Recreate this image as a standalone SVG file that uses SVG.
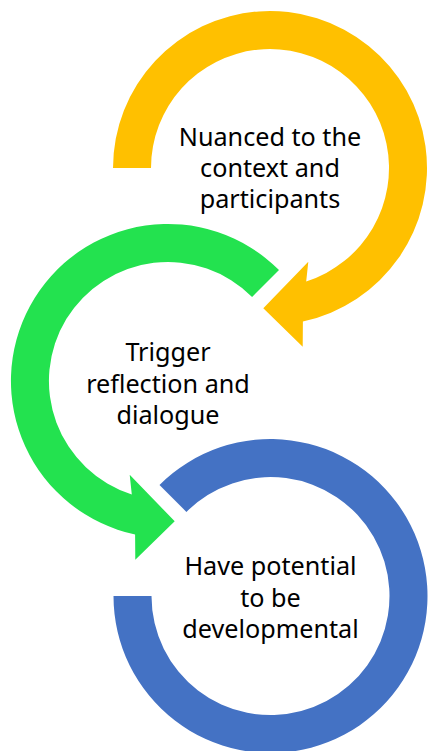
<svg xmlns="http://www.w3.org/2000/svg" width="429" height="751" viewBox="0 0 429 751">
<style>
.lbl{font-family:"Noto Sans","Liberation Sans",Arial,sans-serif;font-size:25.2px;fill:#000;text-anchor:middle}
.y{fill:#FFC000}
.g{fill:#23E24F}
.b{fill:#4472C4}
</style>
<rect width="429" height="751" fill="#fff"/>
<g id="connectors"></g>
<g id="node-yellow">
<path class="y" d="M113,168 A157,157 0 1 1 302.9,321.5 L302.7,346.7 L263.3,308.3 L308.3,261.7 L306.2,281.4 A119,119 0 1 0 151,168 Z"/>
<text class="lbl" x="270" y="146">Nuanced to the</text>
<text class="lbl" x="270" y="177">context and</text>
<text class="lbl" x="270" y="208">participants</text>
</g>
<g id="node-green">
<path class="g" d="M279,270 A157,157 0 1 0 135.1,534.5 L135.3,559.7 L174.7,521.3 L129.7,474.7 L131.8,494.4 A119,119 0 1 1 252.1,296.9 Z"/>
<text class="lbl" x="168" y="361">Trigger</text>
<text class="lbl" x="168" y="392.5">reflection and</text>
<text class="lbl" x="168" y="424">dialogue</text>
</g>
<g id="node-blue">
<path class="b" d="M113.5,596 A157,157 0 1 0 159.5,485 L186.4,511.9 A119,119 0 1 1 151.5,596 Z"/>
<text class="lbl" x="270.5" y="575">Have potential</text>
<text class="lbl" x="270.5" y="606.5">to be</text>
<text class="lbl" x="270.5" y="638">developmental</text>
</g>
</svg>
